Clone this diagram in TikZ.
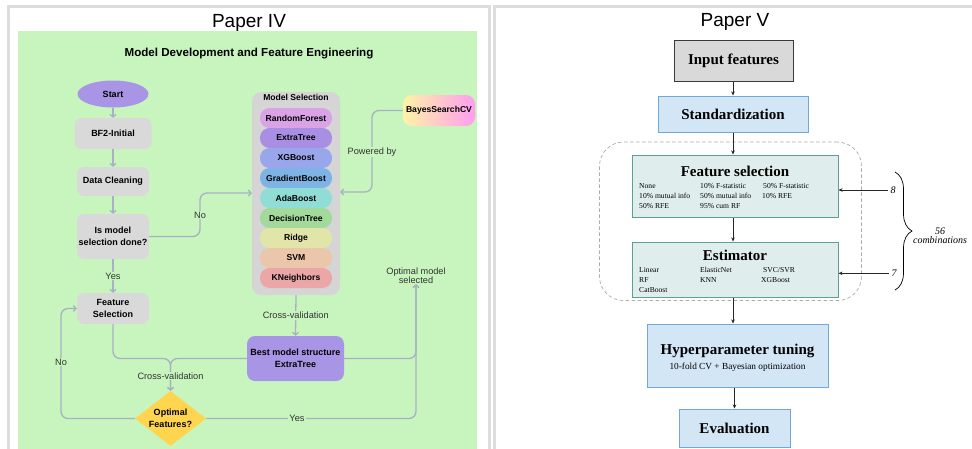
\documentclass[tikz,border=0pt]{standalone}
\usepackage{fontspec}
\setmainfont{Liberation Serif}
\newfontfamily\arial{Liberation Sans}
\usetikzlibrary{arrows.meta,shapes.geometric,decorations.pathreplacing}

\definecolor{bggreen}{HTML}{C8F5BE}
\definecolor{panelgrey}{HTML}{DDDDDD}
\definecolor{boxgrey}{HTML}{D9D9D9}
\definecolor{contgrey}{HTML}{D5D5D5}
\definecolor{lavender}{HTML}{A995E6}
\definecolor{flowc}{HTML}{A8B1C3}
\definecolor{labelc}{HTML}{333333}
\definecolor{pRF}{HTML}{D9A3E5}
\definecolor{pET}{HTML}{A98FE3}
\definecolor{pXG}{HTML}{9AA6EC}
\definecolor{pGB}{HTML}{7EB4E5}
\definecolor{pAB}{HTML}{8FDDD5}
\definecolor{pDT}{HTML}{A3D99B}
\definecolor{pRI}{HTML}{E1E6A8}
\definecolor{pSV}{HTML}{EBC6AB}
\definecolor{pKN}{HTML}{EBA7A8}
\definecolor{bayesL}{HTML}{FFF3A6}
\definecolor{bayesR}{HTML}{FF9DF0}
\definecolor{decyellow}{HTML}{FFD54F}
\definecolor{lightblue}{HTML}{D3E6F6}
\definecolor{blueedge}{HTML}{6FA9D9}
\definecolor{tealfill}{HTML}{DFEEEC}
\definecolor{tealedge}{HTML}{5E9E9A}
\definecolor{inputedge}{HTML}{3A3A3A}

\newcommand\nodefnt{\arial\bfseries\fontsize{9}{12.3}\selectfont}
\newcommand\pillfnt{\arial\bfseries\fontsize{8.6}{10}\selectfont}
\newcommand\lblfnt{\arial\fontsize{9.2}{9.2}\selectfont}
\newcommand\headfnt{\fontsize{15}{17}\selectfont\bfseries}
\newcommand\optfnt{\fontsize{7.6}{9}\selectfont}

\tikzset{
  panel/.style={draw=panelgrey, line width=3pt},
  gbox/.style={rounded corners=7pt, fill=boxgrey, align=center, font=\nodefnt, inner sep=1pt},
  pill/.style={rounded corners=9.5pt, minimum width=72pt, minimum height=20pt, inner sep=0pt, font=\pillfnt},
  flow/.style={draw=flowc, line width=1.3pt, rounded corners=7pt,
    -{Straight Barb[length=2.6pt,width=6pt]}},
  flowlabel/.style={fill=bggreen, font=\lblfnt, text=labelc, inner sep=1pt},
  bluebox/.style={fill=lightblue, draw=blueedge, line width=1pt, inner sep=0pt},
  tealbox/.style={fill=tealfill, draw=tealedge, line width=1pt, inner sep=0pt},
  rarrow/.style={draw=black!85, line width=0.6pt, -{Stealth[length=4pt,width=3.5pt]}},
  grp/.style={draw=gray!65, dash pattern=on 3.5pt off 2.5pt, line width=0.7pt,
    rounded corners=24pt, inner sep=0pt},
  opt/.style={font=\optfnt, anchor=base west, inner sep=0pt},
}

\begin{document}
\begin{tikzpicture}[x=1pt,y=-1pt]
\useasboundingbox (0,0) rectangle (972,448);
\clip (0,0) rectangle (972,448);
\fill[white] (0,0) rectangle (972,448);

% panel frames
\draw[panel] (8.5,6.5) rectangle (489.5,470);
\draw[panel] (494.5,6.5) rectangle (990,470);

% ---------------- left panel ----------------
\fill[bggreen] (18,31) rectangle (477,470);
\node[font=\arial\fontsize{19}{19}\selectfont, anchor=base] (titleL) at (249,27.5) {Paper IV};
\node[font=\arial\bfseries\fontsize{11.6}{12}\selectfont, anchor=base] (subL) at (249,56.5)
  {Model Development and Feature Engineering};

\node[ellipse, fill=lavender, minimum width=71pt, minimum height=27pt, inner sep=0pt,
  font=\nodefnt] (start) at (113,94) {Start};
\node[gbox, minimum width=77pt, minimum height=31pt] (bf2) at (113,133.5) {BF2-Initial};
\node[gbox, minimum width=72pt, minimum height=29pt] (clean) at (113,181.5) {Data Cleaning};
\node[gbox, minimum width=72pt, minimum height=45pt] (done) at (113,236.5) {Is model\\selection done?};
\node[gbox, minimum width=72pt, minimum height=31pt] (fsel) at (113,308.5) {Feature\\Selection};

% model selection group
\node[fill=contgrey, rounded corners=9pt, minimum width=88pt, minimum height=203pt,
  inner sep=0pt] (ms) at (296,193.5) {};
\node[font=\pillfnt, anchor=base] (mstitle) at (296,100.3) {Model Selection};
\node[pill, fill=pRF] (rf) at (296,118) {RandomForest};
\node[pill, fill=pET] (et) at (296,138) {ExtraTree};
\node[pill, fill=pXG] (xg) at (296,158) {XGBoost};
\node[pill, fill=pGB] (gb) at (296,178) {GradientBoost};
\node[pill, fill=pAB] (ab) at (296,198) {AdaBoost};
\node[pill, fill=pDT] (dt) at (296,218) {DecisionTree};
\node[pill, fill=pRI] (ri) at (296,238) {Ridge};
\node[pill, fill=pSV] (sv) at (296,258) {SVM};
\node[pill, fill=pKN] (kn) at (296,278) {KNeighbors};

\node[rounded corners=9pt, left color=bayesL, right color=bayesR, minimum width=72pt,
  minimum height=31pt, inner sep=0pt, font=\pillfnt] (bayes) at (439,110.5) {BayesSearchCV};

\node[rounded corners=8pt, fill=lavender, minimum width=97pt, minimum height=45pt,
  inner sep=0pt, align=center, font=\nodefnt] (best) at (295.5,358.5) {Best model structure\\ExtraTree};

\node[diamond, fill=decyellow, minimum width=71pt, minimum height=55pt, inner sep=0pt] (diam)
  at (170.5,418.5) {};
\node[font=\nodefnt, align=center] (diamtxt) at (170.5,418.5) {Optimal\\Features?};

\node[font=\lblfnt, text=labelc, align=center, inner sep=0pt] (optsel) at (416,276)
  {Optimal model\\selected};

\coordinate (noX) at (200,0);
\coordinate (pbX) at (372,0);
\coordinate (mergeL) at (170.5,358.5);
\coordinate (mergeR) at (416,358.5);

% connectors
\draw[flow] (start) -- (bf2);
\draw[flow] (bf2) -- (clean);
\draw[flow] (clean) -- (done);
\draw[flow] (done) -- node[flowlabel] {Yes} (fsel);
\draw[flow] (done.east) -- (noX |- done.east) -- (200,193) -- (ms.west |- 0,193);
\node[flowlabel] at (200,215) {No};
\draw[flow] (bayes.west) -- (pbX |- bayes.west) -- (372,192) -- (ms.east |- 0,192);
\node[flowlabel] at (372,152) {Powered by};
\draw[flow] (ms.south) -- node[flowlabel] {Cross-validation} (best.north);
\draw[flow] (fsel.south) |- (mergeL) -- (diam.north);
\draw[flow] (best.west) -- (mergeL) -- (diam.north);
\node[flowlabel] at (170.5,376) {Cross-validation};
\draw[flow] (best.east) -- (mergeR) -- (optsel.south);
\draw[flow] (diam.east) -- (416,418.5) -- (optsel.south);
\node[flowlabel] at (297,418.5) {Yes};
\draw[flow] (diam.west) -- (61,418.5) -- (61,308.5) -- (fsel.west);
\node[flowlabel] at (61,362) {No};

% ---------------- right panel ----------------
\node[font=\arial\fontsize{19}{19}\selectfont, anchor=base] (titleR) at (735,26.8) {Paper V};

\coordinate (ax) at (733,0);

\node[fill=boxgrey, draw=inputedge, line width=1pt, minimum width=119pt, minimum height=41pt,
  inner sep=0pt, font=\headfnt] (inp) at (733.5,60.5) {Input features};
\node[bluebox, minimum width=150pt, minimum height=36pt, font=\headfnt] (std) at (733,114) {Standardization};

\node[grp, minimum width=262pt, minimum height=158.5pt] (group) at (730.5,221.3) {};

\node[tealbox, minimum width=206pt, minimum height=62pt] (fs) at (735,186) {};
\node[font=\headfnt, anchor=base, inner sep=0pt] (fstitle) at (735,176.7) {Feature selection};
\node[opt] at (639,188.3) {None};
\node[opt] at (700,188.3) {10\% F-statistic};
\node[opt] at (763,188.3) {50\% F-statistic};
\node[opt] at (639,198.5) {10\% mutual info};
\node[opt] at (700,198.5) {50\% mutual info};
\node[opt] at (762,198.5) {10\% RFE};
\node[opt] at (639,208.7) {50\% RFE};
\node[opt] at (700,208.7) {95\% cum RF};

\node[tealbox, minimum width=206pt, minimum height=55pt] (est) at (735,269.5) {};
\node[font=\headfnt, anchor=base, inner sep=0pt] (esttitle) at (735,260.7) {Estimator};
\node[opt] at (639,272.3) {Linear};
\node[opt] at (700,272.3) {ElasticNet};
\node[opt] at (763,272.3) {SVC/SVR};
\node[opt] at (639,282.5) {RF};
\node[opt] at (700,282.5) {KNN};
\node[opt] at (761,282.5) {XGBoost};
\node[opt] at (639,292.7) {CatBoost};

\node[bluebox, minimum width=181pt, minimum height=63pt] (hyp) at (737.5,355.5) {};
\node[font=\headfnt, anchor=base, inner sep=0pt] (hyptitle) at (737.5,354) {Hyperparameter tuning};
\node[font=\fontsize{9.3}{10}\selectfont, anchor=base, inner sep=0pt] (hypsub) at (737.5,369.3)
  {10-fold CV + Bayesian optimization};

\node[bluebox, minimum width=111pt, minimum height=38pt, font=\headfnt] (eval) at (734.5,428) {Evaluation};

\draw[rarrow] (inp.south -| ax) -- (std.north -| ax);
\draw[rarrow] (std.south -| ax) -- (fs.north -| ax);
\draw[rarrow] (fs.south -| ax) -- (est.north -| ax);
\draw[rarrow] (est.south -| ax) -- (hyp.north -| ax);
\draw[rarrow] (hyp.south -| eval.north) -- (eval.north);

\node[font=\itshape\fontsize{10}{10}\selectfont, inner sep=2.5pt] (n8) at (893,190) {8};
\node[font=\itshape\fontsize{10}{10}\selectfont, inner sep=2.5pt] (n7) at (894,273.3) {7};
\draw[rarrow] (n8.west) -- (fs.east |- n8.west);
\draw[rarrow] (n7.west) -- (est.east |- n7.west);

\draw[decorate, decoration={brace, amplitude=17pt}, line width=0.7pt] (895,172) -- (895,290);
\node[font=\itshape\fontsize{10}{10}\selectfont, anchor=base, inner sep=0pt] (c56) at (940,234) {56};
\node[font=\itshape\fontsize{10}{10}\selectfont, anchor=base, inner sep=0pt] (comb) at (940,243.3) {combinations};

\end{tikzpicture}
\end{document}
